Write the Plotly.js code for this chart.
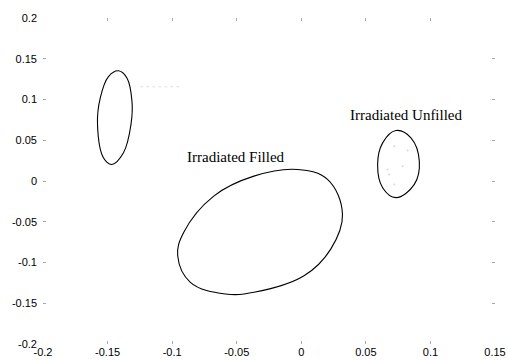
<!DOCTYPE html>
<html>
<head>
<meta charset="utf-8">
<script src="https://cdn.plot.ly/plotly-3.0.1.min.js"></script>
<style>html,body{margin:0;padding:0;background:#fff}#chart{width:508px;height:360px}</style>
</head>
<body>
<div id="chart"></div>
<script>
// Outline points (closed loops)
const leftX  = [-0.1415, -0.1350, -0.1311, -0.1319, -0.1377, -0.1467, -0.1532, -0.1578, -0.1557, -0.1493, -0.1415];
const leftY  = [ 0.1352,  0.1263,  0.0977,  0.0692,  0.0346,  0.0203,  0.0285,  0.0692,  0.1018,  0.1282,  0.1352];

const filledX = [-0.0030, 0.0203, 0.0319, 0.0228, 0.0021, -0.0367, -0.0587, -0.0859, -0.0957, -0.0911, -0.0678, -0.0367, -0.0030];
const filledY = [ 0.0142, 0.0020, -0.0408, -0.0836, -0.1163, -0.1366, -0.1386, -0.1243, -0.0918, -0.0632, -0.0185, 0.0060, 0.0142];

const unfilledX = [0.0733, 0.0849, 0.0914, 0.0875, 0.0733, 0.0630, 0.0591, 0.0630, 0.0733];
const unfilledY = [0.0619, 0.0529, 0.0243, -0.0042, -0.0204, -0.0082, 0.0203, 0.0468, 0.0619];

// faint points inside the unfilled region
const faintX = [0.0720, 0.0824, 0.0785, 0.0668, 0.0681, 0.0720];
const faintY = [0.0427, 0.0374, 0.0182, 0.0142, 0.0081, -0.0042];

// faint dotted segment
const segX = [-0.1247, -0.0936];
const segY = [0.1156, 0.1156];

const labels = ["Irradiated Filled", "Irradiated Unfilled"];
const labelX = [-0.0509, 0.0814];
const labelY = [0.0295, 0.0814];

const xTicks = [-0.2, -0.15, -0.1, -0.05, 0, 0.05, 0.1, 0.15];
const yTicks = [-0.2, -0.15, -0.1, -0.05, 0, 0.05, 0.1, 0.15, 0.2];

const lineStyle = {color: '#000', width: 1.1, shape: 'spline', smoothing: 1.1};
const traces = [
  {x: leftX, y: leftY, mode: 'lines', line: lineStyle, hoverinfo: 'skip'},
  {x: filledX, y: filledY, mode: 'lines', line: lineStyle, hoverinfo: 'skip'},
  {x: unfilledX, y: unfilledY, mode: 'lines', line: lineStyle, hoverinfo: 'skip'},
  {x: faintX, y: faintY, mode: 'markers', marker: {size: 2, color: '#d4d4f6'}, hoverinfo: 'skip'},
  {x: segX, y: segY, mode: 'lines', line: {color: '#e0e0e0', width: 1, dash: 'dot'}, hoverinfo: 'skip'}
];

const axisCommon = {
  showgrid: false, zeroline: false, showline: false,
  ticks: 'inside', ticklen: 3, tickwidth: 1, tickcolor: '#a8a8a8',
  mirror: 'ticks',
  tickfont: {family: 'Liberation Sans, Arial, sans-serif', size: 11, color: '#000'}
};

const layout = {
  width: 508, height: 360,
  margin: {l: 43, r: 13, t: 18, b: 16},
  paper_bgcolor: '#fff', plot_bgcolor: '#fff',
  showlegend: false,
  xaxis: Object.assign({}, axisCommon, {range: [-0.2, 0.15], tickvals: xTicks, ticktext: xTicks.map(String), ticklabelstandoff: 0}),
  yaxis: Object.assign({}, axisCommon, {range: [-0.2, 0.2], tickvals: yTicks, ticktext: yTicks.map(String), ticklabelstandoff: 5}),
  annotations: labels.map((t, i) => ({
    x: labelX[i], y: labelY[i], xref: 'x', yref: 'y', text: t, showarrow: false,
    font: {family: 'Liberation Serif, Times New Roman, serif', size: 15, color: '#000'}
  }))
};

Plotly.newPlot('chart', traces, layout, {displayModeBar: false, staticPlot: true});
</script>
</body>
</html>
